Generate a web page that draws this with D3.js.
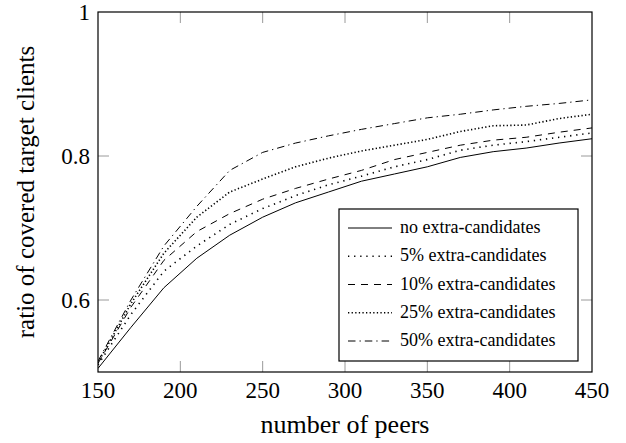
<!DOCTYPE html>
<html>
<head>
<meta charset="utf-8">
<script src="https://cdn.jsdelivr.net/npm/d3@7"></script>
<style>
  body { margin: 0; background: #fff; }
  text { font-family: "Liberation Serif", "DejaVu Serif", serif; fill: #000; }
</style>
</head>
<body>
<div id="chart"></div>
<script>
// data
var peers = [150, 170, 190, 210, 230, 250, 270, 290, 310, 330, 350, 370, 390, 410, 430, 450]
var noExtra = [0.505, 0.562, 0.617, 0.658, 0.690, 0.715, 0.735, 0.750, 0.765, 0.775, 0.785, 0.798, 0.806, 0.811, 0.818, 0.824]
var extra5 = [0.510, 0.580, 0.640, 0.675, 0.705, 0.727, 0.745, 0.760, 0.772, 0.785, 0.795, 0.808, 0.815, 0.820, 0.826, 0.832]
var extra10 = [0.512, 0.590, 0.655, 0.695, 0.720, 0.740, 0.755, 0.768, 0.780, 0.795, 0.805, 0.815, 0.822, 0.826, 0.833, 0.839]
var extra25 = [0.513, 0.595, 0.665, 0.715, 0.750, 0.768, 0.785, 0.797, 0.807, 0.815, 0.823, 0.834, 0.842, 0.843, 0.852, 0.858]
var extra50 = [0.515, 0.600, 0.675, 0.730, 0.780, 0.805, 0.818, 0.828, 0.837, 0.845, 0.853, 0.858, 0.864, 0.869, 0.873, 0.878]
var seriesNames = ["no extra-candidates", "5% extra-candidates", "10% extra-candidates", "25% extra-candidates", "50% extra-candidates"]
var xTicks = [150, 200, 250, 300, 350, 400, 450]
var yTicks = [0.6, 0.8, 1]

var series = [noExtra, extra5, extra10, extra25, extra50]
var dashes = [null, "1.3,4.8", "7,6", "1.3,2.3", "7.5,4,1.3,4"]
var widths = [1, 1.6, 1, 1.6, 1]

var W = 626, H = 443
var pLeft = 98, pRight = 592, pTop = 12, pBottom = 372
var tickLen = 11

var svg = d3.select("#chart").append("svg")
    .attr("width", W)
    .attr("height", H)

var x = d3.scaleLinear().domain([150, 450]).range([pLeft, pRight])
var y = d3.scaleLinear().domain([0.5, 1]).range([pBottom, pTop])

// ticks (inside, grey), on all four sides
var tickColor = "#9a9a9a"
xTicks.slice(1, -1).forEach(function (t) {
  svg.append("line").attr("x1", x(t)).attr("x2", x(t))
      .attr("y1", pBottom).attr("y2", pBottom - tickLen)
      .attr("stroke", tickColor)
  svg.append("line").attr("x1", x(t)).attr("x2", x(t))
      .attr("y1", pTop).attr("y2", pTop + tickLen)
      .attr("stroke", tickColor)
})
yTicks.filter(function (t) { return t < 1 }).forEach(function (t) {
  svg.append("line").attr("x1", pLeft).attr("x2", pLeft + tickLen)
      .attr("y1", y(t)).attr("y2", y(t))
      .attr("stroke", tickColor)
  svg.append("line").attr("x1", pRight).attr("x2", pRight - tickLen)
      .attr("y1", y(t)).attr("y2", y(t))
      .attr("stroke", tickColor)
})

// lines
var line = d3.line()
    .x(function (d, i) { return x(peers[i]) })
    .y(function (d) { return y(d) })

svg.append("clipPath").attr("id", "clip")
    .append("rect").attr("x", pLeft).attr("y", pTop)
    .attr("width", pRight - pLeft).attr("height", pBottom - pTop)

svg.append("g").attr("clip-path", "url(#clip)")
  .selectAll("path")
    .data(series)
    .enter().append("path")
    .attr("d", line)
    .attr("fill", "none")
    .attr("stroke", "#000")
    .attr("stroke-width", function (d, i) { return widths[i] })
    .attr("stroke-dasharray", function (d, i) { return dashes[i] })

// frame
svg.append("rect")
    .attr("x", pLeft).attr("y", pTop)
    .attr("width", pRight - pLeft).attr("height", pBottom - pTop)
    .attr("fill", "none").attr("stroke", "#000").attr("stroke-width", 1.2)

// tick labels
svg.selectAll(".xlab")
    .data(xTicks)
    .enter().append("text")
    .attr("x", function (d) { return x(d) })
    .attr("y", 398)
    .attr("text-anchor", "middle")
    .style("font-size", "23px")
    .text(function (d) { return d })

svg.selectAll(".ylab")
    .data(yTicks)
    .enter().append("text")
    .attr("x", pLeft - 8)
    .attr("y", function (d) { return y(d) + 8 })
    .attr("text-anchor", "end")
    .style("font-size", "23px")
    .text(function (d) { return d3.format("~g")(d) })

// axis titles
svg.append("text")
    .attr("x", (pLeft + pRight) / 2)
    .attr("y", 433)
    .attr("text-anchor", "middle")
    .style("font-size", "26px")
    .text("number of peers")

svg.append("text")
    .attr("transform", "translate(34," + (pTop + pBottom) / 2 + ") rotate(-90)")
    .attr("text-anchor", "middle")
    .style("font-size", "25px")
    .text("ratio of covered target clients")

// legend
var lg = svg.append("g")
lg.append("rect")
    .attr("x", 339).attr("y", 209)
    .attr("width", 239).attr("height", 152)
    .attr("fill", "#fff").attr("stroke", "#000").attr("stroke-width", 1.2)

var legendY = d3.scalePoint().domain(d3.range(5)).range([228, 341])

seriesNames.forEach(function (name, i) {
  lg.append("line")
      .attr("x1", 348).attr("x2", 392)
      .attr("y1", legendY(i)).attr("y2", legendY(i))
      .attr("stroke", "#000")
      .attr("stroke-width", widths[i])
      .attr("stroke-dasharray", dashes[i])
  lg.append("text")
      .attr("x", 400)
      .attr("y", legendY(i) + 5)
      .style("font-size", "18px")
      .text(name)
})
</script>
</body>
</html>
